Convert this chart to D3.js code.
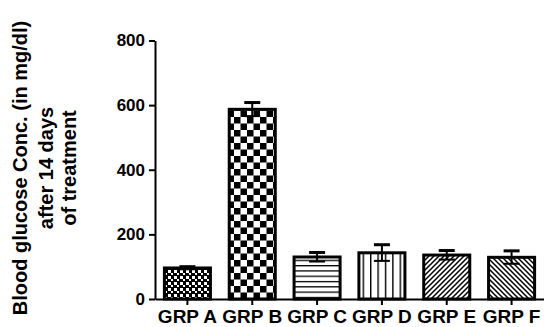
<!DOCTYPE html>
<html><head><meta charset="utf-8">
<script src="https://cdn.jsdelivr.net/npm/d3@7"></script>
<style>body{margin:0;background:#fff}svg{display:block}text{font-family:"Liberation Sans",Arial,sans-serif;font-weight:bold}</style>
</head><body><svg id="c" width="544" height="327"></svg>
<script>
const categories = ["GRP A","GRP B","GRP C","GRP D","GRP E","GRP F"];
const means = [96, 587, 130, 143, 136, 129];
const errors = [4, 21, 14, 25, 14, 20];
const yTicks = [0, 200, 400, 600, 800];
const patterns = ["fineCheck","check","hlines","vlines","diagR","diagL"];
const titleLines = ["Blood glucose Conc. (in mg/dl)","after 14 days","of treatment"];

const svg = d3.select("#c");
const defs = svg.append("defs");
function pat(id, w, h, draw){
  const p = defs.append("pattern").attr("id", id).attr("patternUnits","userSpaceOnUse").attr("width", w).attr("height", h);
  p.append("rect").attr("width", w).attr("height", h).attr("fill","#fff");
  draw(p);
}
pat("fineCheck", 6, 6, p => {
  p.append("rect").attr("width",6).attr("height",6).attr("fill","#000");
  p.append("rect").attr("x",0).attr("y",0).attr("width",3).attr("height",3).attr("fill","#fff");
  p.append("rect").attr("x",3).attr("y",3).attr("width",2).attr("height",2).attr("fill","#fff");
});
pat("check", 13, 13, p => {
  p.append("rect").attr("x",0).attr("y",0).attr("width",6.5).attr("height",6.5).attr("fill","#000");
  p.append("rect").attr("x",6.5).attr("y",6.5).attr("width",6.5).attr("height",6.5).attr("fill","#000");
});
pat("hlines", 6, 5.3, p => {
  p.append("rect").attr("x",0).attr("y",0).attr("width",6).attr("height",1.3).attr("fill","#000");
});
pat("vlines", 7.4, 6, p => {
  p.append("rect").attr("x",0).attr("y",0).attr("width",1.4).attr("height",6).attr("fill","#000");
});
pat("diagR", 5, 5, p => {
  p.append("path").attr("d","M-1,6 L6,-1 M-1,1 L1,-1 M4,6 L6,4").attr("stroke","#000").attr("stroke-width",1.5);
});
pat("diagL", 5, 5, p => {
  p.append("path").attr("d","M-1,-1 L6,6 M4,-1 L6,1 M-1,4 L1,6").attr("stroke","#000").attr("stroke-width",1.5);
});

const x = d3.scaleBand().domain(categories).range([155, 544]).paddingInner(0.29).paddingOuter(0.145);
const y = d3.scaleLinear().domain([0, 800]).range([299, 40.5]);

// bars
const g = svg.append("g");
g.selectAll("rect.bar").data(categories).join("rect").attr("class","bar")
  .attr("x", d => x(d)).attr("width", x.bandwidth())
  .attr("y", (d,i) => y(means[i])).attr("height", (d,i) => y(0) - y(means[i]))
  .attr("fill", (d,i) => `url(#${patterns[i]})`)
  .attr("stroke","#000").attr("stroke-width",3);

// error bars
const eb = svg.append("g").attr("stroke","#000");
categories.forEach((c,i) => {
  const cx = x(c) + x.bandwidth()/2;
  eb.append("line").attr("x1",cx).attr("x2",cx).attr("y1",y(means[i]+errors[i])).attr("y2",y(means[i]-errors[i])).attr("stroke-width",2);
  eb.append("line").attr("x1",cx-8).attr("x2",cx+8).attr("y1",y(means[i]+errors[i])).attr("y2",y(means[i]+errors[i])).attr("stroke-width",3);
  eb.append("line").attr("x1",cx-8).attr("x2",cx+8).attr("y1",y(means[i]-errors[i])).attr("y2",y(means[i]-errors[i])).attr("stroke-width",2);
});

// axes
const ya = svg.append("g").attr("transform","translate(155,0)")
  .call(d3.axisLeft(y).tickValues(yTicks).tickSize(6).tickSizeOuter(0).tickPadding(4));
ya.select(".domain").attr("stroke-width",2);
ya.selectAll(".tick line").attr("stroke-width",2);
ya.selectAll(".tick text").attr("font-size",17).attr("font-family","Liberation Sans, Arial, sans-serif").attr("font-weight","bold").attr("fill","#000");

const xa = svg.append("g").attr("transform","translate(0,299)")
  .call(d3.axisBottom(x).tickSize(6).tickSizeOuter(0).tickPadding(5));
xa.select(".domain").attr("stroke-width",2);
xa.selectAll(".tick line").attr("stroke-width",2);
xa.selectAll(".tick text").attr("font-size",19).attr("font-family","Liberation Sans, Arial, sans-serif").attr("font-weight","bold").attr("fill","#000");

// title
const tx = [27, 53, 76];
titleLines.forEach((t,i) => {
  svg.append("text").attr("transform",`translate(${tx[i]},168) rotate(-90)`)
    .attr("text-anchor","middle").attr("font-size",20).attr("fill","#000").text(t);
});
</script></body></html>
